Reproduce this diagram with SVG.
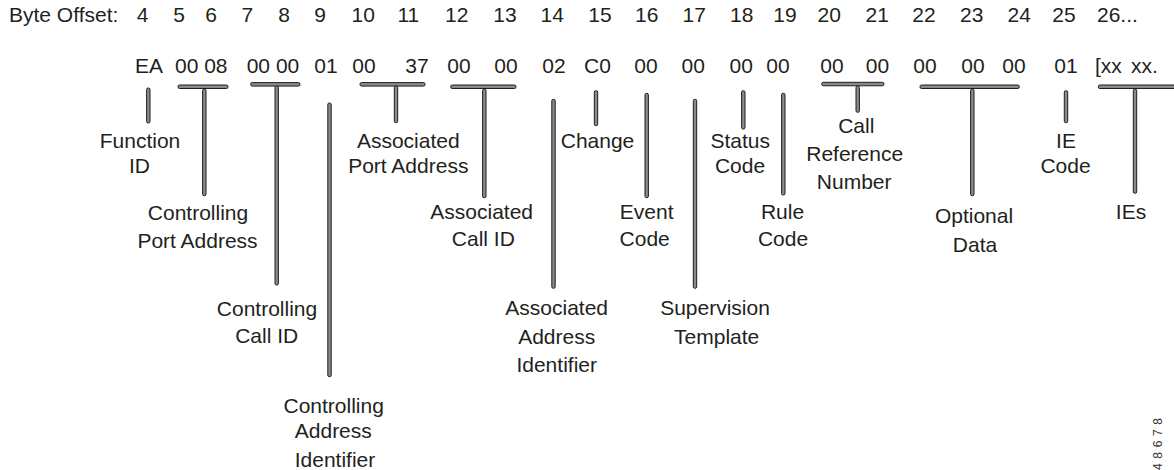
<svg xmlns="http://www.w3.org/2000/svg" width="1174" height="470" viewBox="0 0 1174 470">
<style>
text{font-family:"Liberation Sans",Arial,sans-serif;font-size:21px;fill:#231f20}
.c{text-anchor:middle}
.bar{fill:#8a8a8a;stroke:#1e1e1e;stroke-width:1}
.id{font-size:12px;fill:#333}
</style>
<rect width="1174" height="470" fill="#fff"/>
<g id="offsets">
<text x="9" y="22">Byte Offset:</text>
<text class="c" x="142.7" y="22">4</text>
<text class="c" x="179" y="22">5</text>
<text class="c" x="211" y="22">6</text>
<text class="c" x="247.3" y="22">7</text>
<text class="c" x="284" y="22">8</text>
<text class="c" x="320" y="22">9</text>
<text class="c" x="363.3" y="22">10</text>
<text class="c" x="408.3" y="22">11</text>
<text class="c" x="456.7" y="22">12</text>
<text class="c" x="505" y="22">13</text>
<text class="c" x="552.3" y="22">14</text>
<text class="c" x="600" y="22">15</text>
<text class="c" x="646.7" y="22">16</text>
<text class="c" x="694.3" y="22">17</text>
<text class="c" x="741.7" y="22">18</text>
<text class="c" x="785" y="22">19</text>
<text class="c" x="829.3" y="22">20</text>
<text class="c" x="877.3" y="22">21</text>
<text class="c" x="924" y="22">22</text>
<text class="c" x="971.7" y="22">23</text>
<text class="c" x="1019.3" y="22">24</text>
<text class="c" x="1064" y="22">25</text>
<text x="1097" y="22">26...</text>
</g>
<g id="bytes">
<text class="c" x="149" y="73">EA</text>
<text x="175" y="73">00 08</text>
<text x="246.7" y="73">00 00</text>
<text class="c" x="326" y="73">01</text>
<text class="c" x="364" y="73">00</text>
<text class="c" x="417" y="73">37</text>
<text class="c" x="459" y="73">00</text>
<text class="c" x="506" y="73">00</text>
<text class="c" x="554" y="73">02</text>
<text class="c" x="597.5" y="73">C0</text>
<text class="c" x="646" y="73">00</text>
<text class="c" x="693.3" y="73">00</text>
<text class="c" x="741.3" y="73">00</text>
<text class="c" x="778" y="73">00</text>
<text class="c" x="832" y="73">00</text>
<text class="c" x="877.5" y="73">00</text>
<text class="c" x="925" y="73">00</text>
<text class="c" x="973" y="73">00</text>
<text class="c" x="1014" y="73">00</text>
<text class="c" x="1066" y="73">01</text>
<text x="1095" y="73">[xx<tspan x="1131">xx.</tspan></text>
</g>
<g id="connectors">
<rect class="bar" x="178" y="85" width="50" height="3.5" rx="1.5"/>
<rect class="bar" x="250.7" y="82.6" width="49.3" height="3.5" rx="1.5"/>
<rect class="bar" x="360" y="82.6" width="65" height="3.5" rx="1.5"/>
<rect class="bar" x="450.7" y="85" width="65.3" height="3.5" rx="1.5"/>
<rect class="bar" x="821.7" y="82.3" width="62.3" height="3.5" rx="1.5"/>
<rect class="bar" x="920" y="85" width="99.3" height="3.5" rx="1.5"/>
<rect class="bar" x="1098.3" y="85" width="80" height="3.5" rx="1.5"/>
<rect class="bar" x="146.6" y="88" width="3.4" height="35" rx="1.5"/>
<rect class="bar" x="202.6" y="89" width="3.4" height="106.7" rx="1.5"/>
<rect class="bar" x="275" y="86" width="3.4" height="199" rx="1.5"/>
<rect class="bar" x="327.8" y="103" width="3.4" height="273.7" rx="1.5"/>
<rect class="bar" x="394.3" y="86" width="3.4" height="36.7" rx="1.5"/>
<rect class="bar" x="482.6" y="89" width="3.4" height="108.7" rx="1.5"/>
<rect class="bar" x="551.8" y="99.3" width="3.4" height="189" rx="1.5"/>
<rect class="bar" x="594.3" y="90.7" width="3.4" height="35" rx="1.5"/>
<rect class="bar" x="645" y="93.3" width="3.4" height="104.4" rx="1.5"/>
<rect class="bar" x="693.3" y="99.3" width="3.4" height="189" rx="1.5"/>
<rect class="bar" x="741.6" y="90.7" width="3.4" height="38.3" rx="1.5"/>
<rect class="bar" x="781.6" y="93.3" width="3.4" height="101.7" rx="1.5"/>
<rect class="bar" x="856" y="86" width="3.4" height="26.3" rx="1.5"/>
<rect class="bar" x="970.6" y="89" width="3.4" height="106.7" rx="1.5"/>
<rect class="bar" x="1064.3" y="90.7" width="3.4" height="32" rx="1.5"/>
<rect class="bar" x="1133.3" y="89" width="3.4" height="104.3" rx="1.5"/>
</g>
<g id="function-id"><text class="c" x="140" y="147.7">Function</text><text class="c" x="139.5" y="173.3">ID</text></g>
<g id="controlling-port-address"><text class="c" x="198" y="220">Controlling</text><text class="c" x="197.5" y="247.7">Port Address</text></g>
<g id="controlling-call-id"><text class="c" x="267" y="316">Controlling</text><text class="c" x="266.7" y="342.7">Call ID</text></g>
<g id="controlling-address-identifier"><text class="c" x="333.7" y="413.3">Controlling</text><text class="c" x="333.3" y="438.3">Address</text><text class="c" x="335" y="466.5">Identifier</text></g>
<g id="associated-port-address"><text class="c" x="408.3" y="147.7">Associated</text><text class="c" x="408.3" y="173.3">Port Address</text></g>
<g id="associated-call-id"><text class="c" x="481.7" y="219.3">Associated</text><text class="c" x="483.3" y="246">Call ID</text></g>
<g id="associated-address-identifier"><text class="c" x="556.7" y="315">Associated</text><text class="c" x="556.7" y="344">Address</text><text class="c" x="556.7" y="371.7">Identifier</text></g>
<g id="change"><text class="c" x="597.5" y="147.7">Change</text></g>
<g id="event-code"><text class="c" x="646.7" y="219.3">Event</text><text class="c" x="644.7" y="246">Code</text></g>
<g id="supervision-template"><text class="c" x="715" y="315">Supervision</text><text class="c" x="716.7" y="344">Template</text></g>
<g id="status-code"><text class="c" x="740.3" y="147.7">Status</text><text class="c" x="740" y="173.3">Code</text></g>
<g id="rule-code"><text class="c" x="782.5" y="219.3">Rule</text><text class="c" x="783" y="246">Code</text></g>
<g id="call-reference-number"><text class="c" x="856.3" y="133.3">Call</text><text class="c" x="854.7" y="160.7">Reference</text><text class="c" x="854.2" y="189">Number</text></g>
<g id="optional-data"><text class="c" x="974" y="222.7">Optional</text><text class="c" x="975" y="251.7">Data</text></g>
<g id="ie-code"><text class="c" x="1066" y="147.7">IE</text><text class="c" x="1065.5" y="173.3">Code</text></g>
<g id="ies"><text class="c" x="1131" y="219.3">IEs</text></g>
<text class="id" transform="translate(1162,470) rotate(-90)" textLength="52" lengthAdjust="spacing">48678</text>
</svg>
